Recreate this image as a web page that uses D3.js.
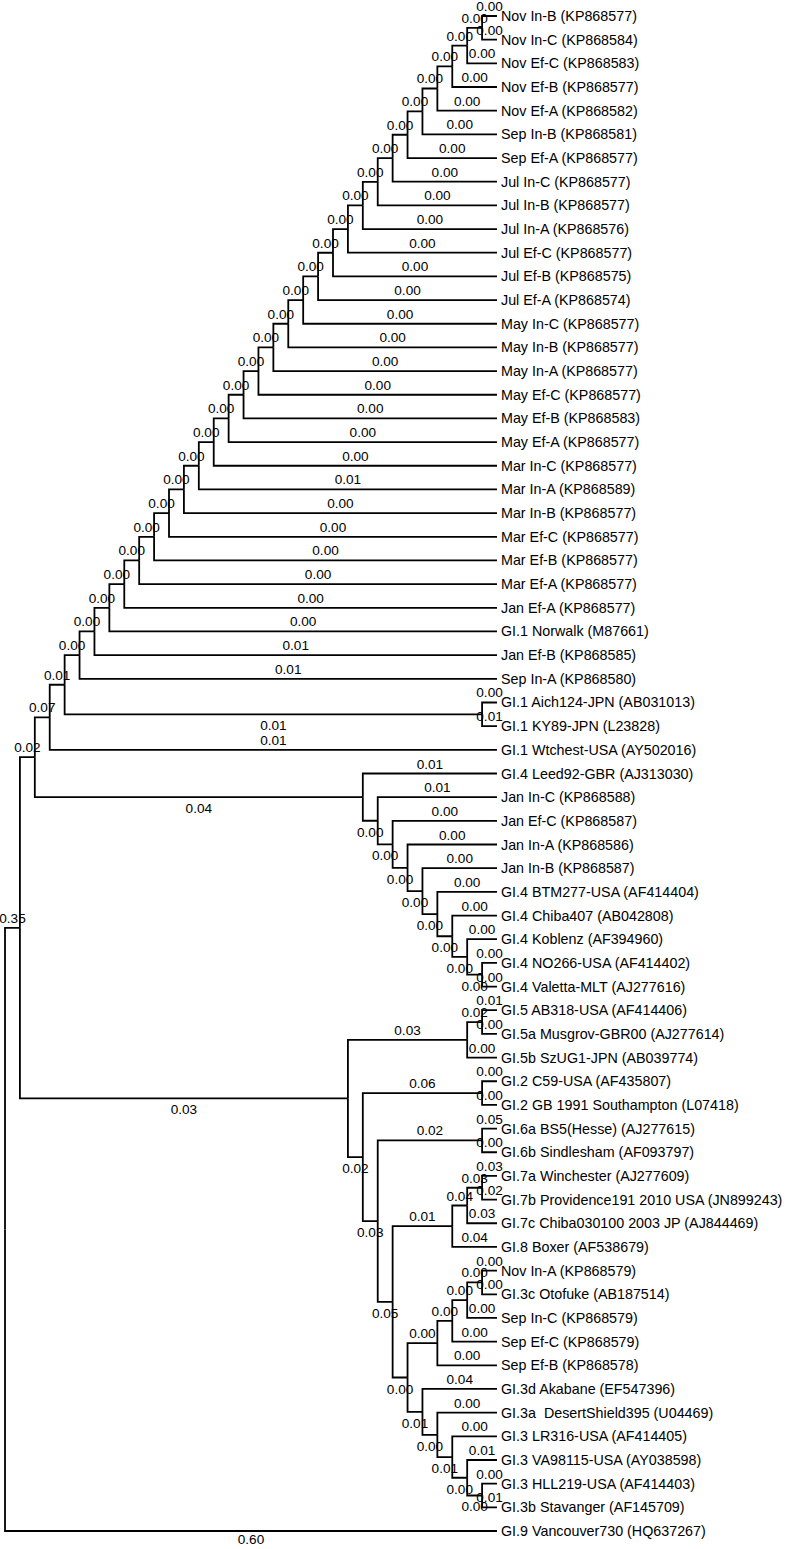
<!DOCTYPE html>
<html>
<head>
<meta charset="utf-8">
<script src="https://cdn.jsdelivr.net/npm/d3@7"></script>
<style>
  body { margin: 0; background: #fff; }
  svg { display: block; }
</style>
</head>
<body>
<div id="tree"></div>
<script>
// leaf names, top to bottom (index used in the topology strings)
const leaves = [
  "Nov In-B (KP868577)", "Nov In-C (KP868584)", "Nov Ef-C (KP868583)", "Nov Ef-B (KP868577)",
  "Nov Ef-A (KP868582)", "Sep In-B (KP868581)", "Sep Ef-A (KP868577)", "Jul In-C (KP868577)",
  "Jul In-B (KP868577)", "Jul In-A (KP868576)", "Jul Ef-C (KP868577)", "Jul Ef-B (KP868575)",
  "Jul Ef-A (KP868574)", "May In-C (KP868577)", "May In-B (KP868577)", "May In-A (KP868577)",
  "May Ef-C (KP868577)", "May Ef-B (KP868583)", "May Ef-A (KP868577)", "Mar In-C (KP868577)",
  "Mar In-A (KP868589)", "Mar In-B (KP868577)", "Mar Ef-C (KP868577)", "Mar Ef-B (KP868577)",
  "Mar Ef-A (KP868577)", "Jan Ef-A (KP868577)", "GI.1 Norwalk (M87661)", "Jan Ef-B (KP868585)",
  "Sep In-A (KP868580)", "GI.1 Aich124-JPN (AB031013)", "GI.1 KY89-JPN (L23828)",
  "GI.1 Wtchest-USA (AY502016)", "GI.4 Leed92-GBR (AJ313030)", "Jan In-C (KP868588)",
  "Jan Ef-C (KP868587)", "Jan In-A (KP868586)", "Jan In-B (KP868587)", "GI.4 BTM277-USA (AF414404)",
  "GI.4 Chiba407 (AB042808)", "GI.4 Koblenz (AF394960)", "GI.4 NO266-USA (AF414402)",
  "GI.4 Valetta-MLT (AJ277616)", "GI.5 AB318-USA (AF414406)", "GI.5a Musgrov-GBR00 (AJ277614)",
  "GI.5b SzUG1-JPN (AB039774)", "GI.2 C59-USA (AF435807)", "GI.2 GB 1991 Southampton (L07418)",
  "GI.6a BS5(Hesse) (AJ277615)", "GI.6b Sindlesham (AF093797)", "GI.7a Winchester (AJ277609)",
  "GI.7b Providence191 2010 USA (JN899243)", "GI.7c Chiba030100 2003 JP (AJ844469)",
  "GI.8 Boxer (AF538679)", "Nov In-A (KP868579)", "GI.3c Otofuke (AB187514)", "Sep In-C (KP868579)",
  "Sep Ef-C (KP868579)", "Sep Ef-B (KP868578)", "GI.3d Akabane (EF547396)",
  "GI.3a  DesertShield395 (U04469)", "GI.3 LR316-USA (AF414405)", "GI.3 VA98115-USA (AY038598)",
  "GI.3 HLL219-USA (AF414403)", "GI.3b Stavanger (AF145709)", "GI.9 Vancouver730 (HQ637267)"
];

// clade topologies (newick, leaf index : branch length label)
const cladeTop = "((((((((((((((((((((((((((((0:0.00,1:0.00):0.00,2:0.00):0.00,3:0.00):0.00,4:0.00):0.00,5:0.00):0.00,6:0.00):0.00,7:0.00):0.00,8:0.00):0.00,9:0.00):0.00,10:0.00):0.00,11:0.00):0.00,12:0.00):0.00,13:0.00):0.00,14:0.00):0.00,15:0.00):0.00,16:0.00):0.00,17:0.00):0.00,18:0.00):0.00,19:0.00):0.00,20:0.01):0.00,21:0.00):0.00,22:0.00):0.00,23:0.00):0.00,24:0.00):0.00,25:0.00):0.00,26:0.00):0.00,27:0.01):0.00,28:0.01):0.00";
const cladeGI1 = `((${cladeTop},(29:0.00,30:0.01):0.01):0.01,31:0.01):0.07`;
const cladeGI4 = "(32:0.01,(33:0.01,(34:0.00,(35:0.00,(36:0.00,(37:0.00,(38:0.00,(39:0.00,(40:0.00,41:0.00):0.00):0.00):0.00):0.00):0.00):0.00):0.00):0.00):0.04";
const cladeGI5 = "((42:0.01,43:0.00):0.02,44:0.00):0.03";
const cladeGI2 = "(45:0.00,46:0.00):0.06";
const cladeGI6 = "(47:0.05,48:0.00):0.02";
const cladeGI78 = "(((49:0.03,50:0.02):0.03,51:0.03):0.04,52:0.04):0.01";
const cladeGI3 = "(((((53:0.00,54:0.00):0.00,55:0.00):0.00,56:0.00):0.00,57:0.00):0.00,(58:0.04,(59:0.00,(60:0.00,(61:0.01,(62:0.00,63:0.01):0.00):0.00):0.01):0.00):0.01):0.00";

const newick = `(((${cladeGI1},${cladeGI4}):0.02,(${cladeGI5},(${cladeGI2},(${cladeGI6},(${cladeGI78},${cladeGI3}):0.05):0.03):0.02):0.03):0.35,64:0.60);`;

function parseNewick(s) {
    let i = 0;
    function node() {
        const n = {};
        if (s[i] === "(") {
            i++;
            n.children = [node()];
            while (s[i] === ",") { i++; n.children.push(node()); }
            i++; // ")"
        }
        let tok = "";
        while (i < s.length && !",():;".includes(s[i])) tok += s[i++];
        if (tok) n.leaf = +tok;
        if (s[i] === ":") {
            i++;
            let len = "";
            while (i < s.length && !",();".includes(s[i])) len += s[i++];
            n.length = len;
        }
        return n;
    }
    return node();
}

const width = 800, height = 1549;

const svg = d3.select("#tree").append("svg")
    .attr("width", width)
    .attr("height", height)
    .style("background", "#fff");

const root = d3.hierarchy(parseNewick(newick));
d3.cluster().nodeSize([1, 1]).separation(() => 1)(root);

const leafNodes = root.leaves();
const yScale = d3.scaleLinear()
    .domain(d3.extent(leafNodes, d => d.x))
    .range([16, 1531]);
const xScale = d3.scaleLinear()
    .domain([0, root.height])
    .range([5, 497]);

// branches (elbow style)
svg.append("g")
    .selectAll("path")
    .data(root.links())
    .enter()
    .append("path")
    .attr("d", d => `M${xScale(d.source.y)},${yScale(d.source.x)}V${yScale(d.target.x)}H${xScale(d.target.y)}`)
    .attr("fill", "none")
    .attr("stroke", "#000")
    .attr("stroke-width", 1.8);

// branch length labels: lower child of a node goes under its branch
svg.append("g")
    .selectAll("text")
    .data(root.descendants().filter(d => d.parent))
    .enter()
    .append("text")
    .attr("x", d => (xScale(d.parent.y) + xScale(d.y)) / 2)
    .attr("y", d => {
        const lower = d.parent.children[1] === d;
        const below = lower && (d.children || !d.parent.parent);
        return below ? Math.min(yScale(d.x) + 16, height - 5) : yScale(d.x) - 5;
    })
    .attr("text-anchor", "middle")
    .style("font-family", "'Liberation Sans', Arial, sans-serif")
    .style("font-size", "13.6px")
    .text(d => d.data.length);

// leaf names
svg.append("g")
    .selectAll("text")
    .data(leafNodes)
    .enter()
    .append("text")
    .attr("x", d => xScale(d.y) + 4)
    .attr("y", d => yScale(d.x) + 5)
    .style("font-family", "'Liberation Sans', Arial, sans-serif")
    .style("font-size", "14.3px")
    .style("white-space", "pre")
    .text(d => leaves[d.data.leaf]);
</script>
</body>
</html>
